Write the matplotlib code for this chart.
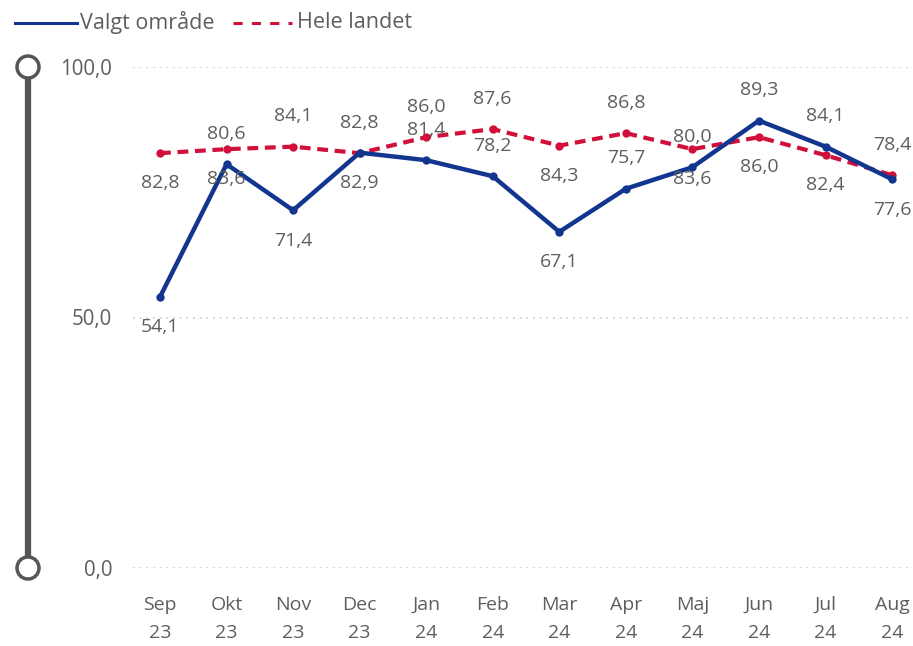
import matplotlib
matplotlib.use("Agg")
import matplotlib.pyplot as plt
from matplotlib.lines import Line2D
from matplotlib.patches import Circle

months = ["Sep", "Okt", "Nov", "Dec", "Jan", "Feb", "Mar", "Apr", "Maj", "Jun", "Jul", "Aug"]
years = ["23", "23", "23", "23", "24", "24", "24", "24", "24", "24", "24", "24"]
valgt = [54.1, 80.6, 71.4, 82.9, 81.4, 78.2, 67.1, 75.7, 80.0, 89.3, 84.1, 77.6]
hele = [82.8, 83.6, 84.1, 82.8, 86.0, 87.6, 84.3, 86.8, 83.6, 86.0, 82.4, 78.4]
valgt_pos = ["b", "a", "b", "b", "a", "a", "b", "a", "a", "a", "a", "b"]
hele_pos = ["b", "b", "a", "a", "a", "a", "b", "a", "b", "b", "b", "a"]
yticks = [0, 50, 100]
ytick_labels = ["0,0", "50,0", "100,0"]

W, H = 913, 646
BLUE = "#12368F"
RED = "#D0103A"
TXT = "#605E5C"
FONT = "Open Sans"
FS = 14

fig = plt.figure(figsize=(W / 100, H / 100), dpi=100)
plt.rcParams["font.family"] = [FONT, "DejaVu Sans"]

ax = fig.add_axes([133 / W, 1 - 568 / H, 1 - 133 / W, (568 - 67) / H])
x = list(range(len(months)))
ax.set_xlim(-27 / 66.55, (913 - 160) / 66.55)
ax.set_ylim(0, 100)

for s in ax.spines.values():
    s.set_visible(False)
ax.set_yticks(yticks)
ax.set_yticklabels(ytick_labels)
ax.set_xticks(x)
ax.set_xticklabels([f"{m}\n{y}" for m, y in zip(months, years)], linespacing=1.7)
ax.tick_params(axis="both", length=0, labelsize=FS, labelcolor=TXT)
ax.tick_params(axis="y", pad=15, labelsize=14.8)
ax.tick_params(axis="x", pad=20)
ax.grid(axis="y", color="#C8C8C8", linestyle=(0, (1, 3)), linewidth=1.2)
ax.set_axisbelow(True)

ax.plot(x, hele, color=RED, linewidth=3.0, dashes=(2.6, 1.6), marker="o",
        markersize=6, markeredgewidth=0, clip_on=False, zorder=3)
ax.plot(x, valgt, color=BLUE, linewidth=3.2, marker="o",
        markersize=6, markeredgewidth=0, clip_on=False, zorder=4)

def fmt(v):
    return f"{v:.1f}".replace(".", ",")

off = 21.8
for xi, v, p in zip(x, valgt, valgt_pos):
    ax.annotate(fmt(v), (xi, v), xytext=(0, off if p == "a" else -off),
                textcoords="offset points", ha="center", va="center",
                fontsize=FS, color=TXT, zorder=5)
for xi, v, p in zip(x, hele, hele_pos):
    ax.annotate(fmt(v), (xi, v), xytext=(0, off if p == "a" else -off),
                textcoords="offset points", ha="center", va="center",
                fontsize=FS, color=TXT, zorder=5)

# overlay axes in pixel coordinates for slider and legend
ov = fig.add_axes([0, 0, 1, 1], zorder=10)
ov.set_xlim(0, W)
ov.set_ylim(H, 0)
ov.axis("off")
ov.patch.set_alpha(0)
ov.add_line(Line2D([28, 28], [67, 568], color="#555555", linewidth=4.5, solid_capstyle="butt"))
for yy in (67, 568):
    ov.add_patch(Circle((28, yy), 11, facecolor="white", edgecolor="#555555", linewidth=2.5, zorder=3))

ov.add_line(Line2D([15, 77], [23, 23], color=BLUE, linewidth=2.2))
ov.text(80, 22, "Valgt område", fontsize=15.5, color=TXT, va="center", ha="left")
ov.add_line(Line2D([233, 292], [23, 23], color=RED, linewidth=2.2, dashes=(3.0, 3.0)))
ov.text(297, 22, "Hele landet", fontsize=15.5, color=TXT, va="center", ha="left")

fig.savefig("out.png", dpi=100, facecolor="white")
